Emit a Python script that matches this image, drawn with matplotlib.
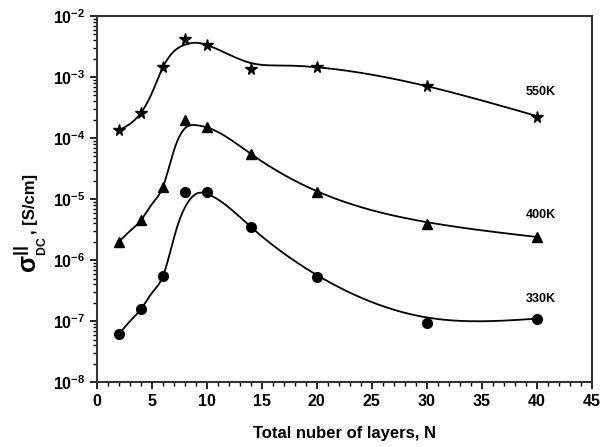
import numpy as np
import matplotlib
matplotlib.use("Agg")
import matplotlib.pyplot as plt
from matplotlib.ticker import MultipleLocator, LogLocator

plt.rcParams['font.family'] = ['Liberation Sans', 'DejaVu Sans']
plt.rcParams['font.weight'] = 'bold'
plt.rcParams['mathtext.fontset'] = 'custom'
plt.rcParams['mathtext.rm'] = 'Liberation Sans:bold'
plt.rcParams['mathtext.bf'] = 'Liberation Sans:bold'
plt.rcParams['mathtext.it'] = 'Liberation Sans:bold'
plt.rcParams['mathtext.sf'] = 'Liberation Sans'
plt.rcParams['mathtext.default'] = 'bf'

# measured points
n_layers = [2, 4, 6, 8, 10, 14, 20, 30, 40]
sigma_550 = [1.35e-4, 2.6e-4, 1.45e-3, 4.2e-3, 3.35e-3, 1.35e-3, 1.46e-3, 7.1e-4, 2.2e-4]
sigma_400 = [2.0e-6, 4.5e-6, 1.6e-5, 2.0e-4, 1.5e-4, 5.5e-5, 1.3e-5, 3.9e-6, 2.4e-6]
sigma_330 = [6.1e-8, 1.58e-7, 5.5e-7, 1.3e-5, 1.3e-5, 3.5e-6, 5.3e-7, 9.3e-8, 1.1e-7]

# fitted curves (knots of the drawn lines)
fit_550_x = [2, 4, 5, 6, 8, 9, 10, 14, 17, 20, 30, 40]
fit_550_y = [1.35e-4, 2.6e-4, 5.5e-4, 1.45e-3, 3.4e-3, 3.65e-3, 3.35e-3, 1.7e-3, 1.55e-3, 1.45e-3, 7.1e-4, 2.3e-4]
fit_400_x = [2, 3, 4, 5, 6, 7, 8, 9, 10, 14, 20, 30, 40]
fit_400_y = [2.0e-6, 3.0e-6, 4.5e-6, 8.3e-6, 1.6e-5, 6.3e-5, 1.45e-4, 1.63e-4, 1.5e-4, 5.5e-5, 1.35e-5, 4.2e-6, 2.4e-6]
fit_330_x = [2, 3, 4, 5, 6, 7.2, 8.4, 9.2, 10, 14, 20, 30, 40]
fit_330_y = [6.1e-8, 1.0e-7, 1.58e-7, 2.9e-7, 5.5e-7, 3.1e-6, 9.6e-6, 1.26e-5, 1.22e-5, 3.5e-6, 5.7e-7, 1.15e-7, 1.1e-7]

labels = ['550K', '400K', '330K']
label_y = [5.7e-4, 5.5e-6, 2.3e-7]


def spline(xk, yk, xs):
    # natural cubic spline
    xk = np.asarray(xk, float)
    yk = np.asarray(yk, float)
    n = len(xk)
    h = np.diff(xk)
    A = np.zeros((n, n))
    b = np.zeros(n)
    A[0, 0] = A[-1, -1] = 1
    for i in range(1, n - 1):
        A[i, i - 1] = h[i - 1]
        A[i, i] = 2 * (h[i - 1] + h[i])
        A[i, i + 1] = h[i]
        b[i] = 3 * ((yk[i + 1] - yk[i]) / h[i] - (yk[i] - yk[i - 1]) / h[i - 1])
    c = np.linalg.solve(A, b)
    idx = np.clip(np.searchsorted(xk, xs) - 1, 0, n - 2)
    dx = xs - xk[idx]
    hh = h[idx]
    bb = (yk[idx + 1] - yk[idx]) / hh - hh * (2 * c[idx] + c[idx + 1]) / 3
    dd = (c[idx + 1] - c[idx]) / (3 * hh)
    return yk[idx] + bb * dx + c[idx] * dx ** 2 + dd * dx ** 3


fig = plt.figure(figsize=(6.1, 4.47), dpi=100)
ax = fig.add_axes([0.159, 0.145, 0.811, 0.819])

series = [(sigma_550, fit_550_x, fit_550_y, '*', 8.5),
          (sigma_400, fit_400_x, fit_400_y, '^', 7.5),
          (sigma_330, fit_330_x, fit_330_y, 'o', 7)]

for (pts, fx, fy, mk, ms), lab, ly in zip(series, labels, label_y):
    xs = np.linspace(fx[0], fx[-1], 400)
    ys = 10 ** spline(fx, np.log10(fy), xs)
    ax.plot(xs, ys, color='black', lw=1.3)
    ax.plot(n_layers, pts, ls='none', marker=mk, ms=ms, color='black')
    ax.text(40.4, ly, lab, ha='center', va='center', fontsize=9, fontweight='bold')

ax.set_yscale('log')
ax.set_xlim(0, 45)
ax.set_ylim(1e-8, 1e-2)
ax.xaxis.set_major_locator(MultipleLocator(5))
ax.xaxis.set_minor_locator(MultipleLocator(1))
ax.yaxis.set_major_locator(LogLocator(base=10, numticks=10))
ax.yaxis.set_minor_locator(LogLocator(base=10, subs=np.arange(2, 10), numticks=10))

for s in ax.spines.values():
    s.set_linewidth(1.5)
    s.set_color('#333333')
ax.tick_params(which='major', direction='out', length=5, width=1.2, labelsize=11.5)
ax.tick_params(which='minor', direction='out', length=3, width=1.0)

ax.set_xlabel('Total nuber of layers, N', fontsize=12, fontweight='bold', labelpad=12)

# y label: large sigma with || and small DC, then unit
fig.text(30 / 610, 1 - 255 / 447, r'$\sigma^{||}_{_{\mathsf{DC}}}$', rotation=90,
         ha='center', va='center', fontsize=18)
fig.text(31 / 610, 1 - 204 / 447, ', [S/cm]', rotation=90,
         ha='center', va='center', fontsize=12, fontweight='bold')

fig.savefig('out.png', dpi=100)
